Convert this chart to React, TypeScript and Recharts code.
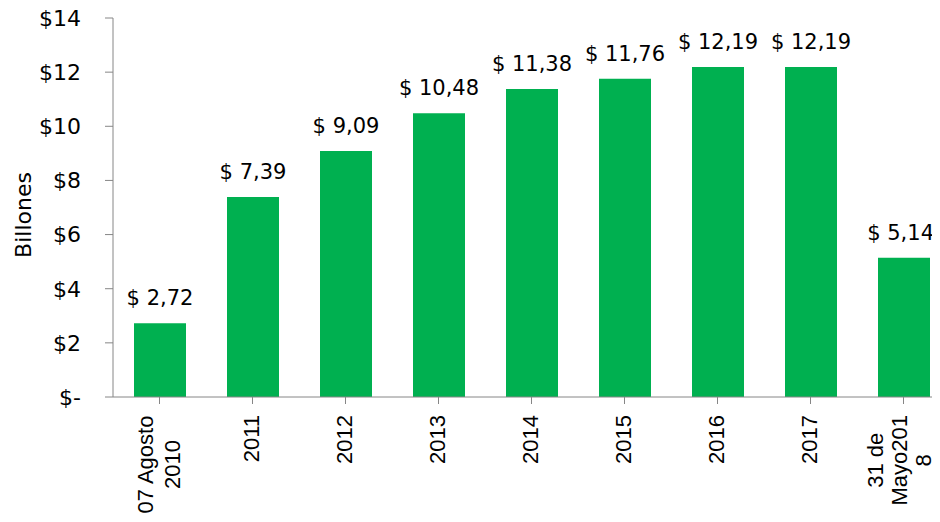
import { BarChart, Bar, XAxis, YAxis, LabelList } from 'recharts';

const categories = ['07 Agosto\n2010', '2011', '2012', '2013', '2014', '2015', '2016', '2017', '31 de\nMayo201\n8'];
const values = [2.72, 7.39, 9.09, 10.48, 11.38, 11.76, 12.19, 12.19, 5.14];
const yTicks = [0, 2, 4, 6, 8, 10, 12, 14];

const data = categories.map((c, i) => ({ name: c, value: values[i] }));

const GREEN = '#00B050';
const AXIS = '#868686';
const LABEL_FONT = '"DejaVu Sans", sans-serif';
const TICK_FONT = '"Liberation Sans", Arial, sans-serif';

let canvasCtx: CanvasRenderingContext2D | null = null;
function measure(text: string, font: string) {
  if (!canvasCtx) canvasCtx = document.createElement('canvas').getContext('2d');
  if (!canvasCtx) return text.length * 11;
  canvasCtx.font = font;
  return canvasCtx.measureText(text).width;
}

function fmtValue(v: number) {
  return `$ ${v.toFixed(2).replace('.', ',')}`;
}

function fmtTick(v: number) {
  return v === 0 ? '$-' : `$${v}`;
}

function CategoryTick({ x = 0, y = 0, payload }: any) {
  const lines = String(payload?.value ?? '').split('\n');
  const maxW = Math.max(...lines.map((l) => measure(l, `22px ${TICK_FONT}`)));
  const lh = lines.length > 2 ? 24 : 27;
  const shift = lines.length > 2 ? -4 : -1;
  return (
    <g transform={`translate(${x + shift},${y})`}>
      {lines.map((l, i) => (
        <text
          key={i}
          transform="rotate(-90)"
          x={-maxW / 2}
          y={(i - (lines.length - 1) / 2) * lh}
          textAnchor="middle"
          dominantBaseline="central"
          fontFamily={TICK_FONT}
          fontSize={22}
          fill="#000"
        >
          {l}
        </text>
      ))}
    </g>
  );
}

function ValueLabel({ x = 0, y = 0, width = 0, value = 0 }: any) {
  const text = fmtValue(value);
  const w = measure(text, `21px ${LABEL_FONT}`);
  const cx = Math.min(x + width / 2, 934 - w / 2);
  return (
    <text
      x={cx}
      y={y - 18}
      textAnchor="middle"
      fontFamily={LABEL_FONT}
      fontSize={21}
      fill="#000"
    >
      {text}
    </text>
  );
}

export default function App() {
  return (
    <div style={{ margin: -8, width: 940, height: 522, overflow: 'hidden', background: '#fff' }}>
      <BarChart
        width={950}
        height={522}
        data={data}
        margin={{ top: 18, right: 0, bottom: 0, left: 0 }}
      >
        <XAxis
          dataKey="name"
          interval={0}
          height={125}
          tick={<CategoryTick />}
          tickSize={7}
          tickMargin={11}
          axisLine={{ stroke: AXIS }}
          tickLine={{ stroke: AXIS }}
        />
        <YAxis
          width={113}
          domain={[0, 14]}
          ticks={yTicks}
          tickFormatter={fmtTick}
          tickSize={8}
          tickMargin={24}
          axisLine={{ stroke: AXIS }}
          tickLine={{ stroke: AXIS }}
          tick={{ fill: '#000', fontSize: 22, fontFamily: LABEL_FONT }}
          label={{
            content: () => (
              <text
                x={23}
                y={215}
                transform="rotate(-90, 23, 215)"
                textAnchor="middle"
                dominantBaseline="central"
                fontFamily={LABEL_FONT}
                fontSize={22}
                fill="#000"
              >
                Billones
              </text>
            ),
          }}
        />
        <Bar dataKey="value" fill={GREEN} barSize={52} isAnimationActive={false}>
          <LabelList dataKey="value" content={<ValueLabel />} />
        </Bar>
      </BarChart>
    </div>
  );
}
